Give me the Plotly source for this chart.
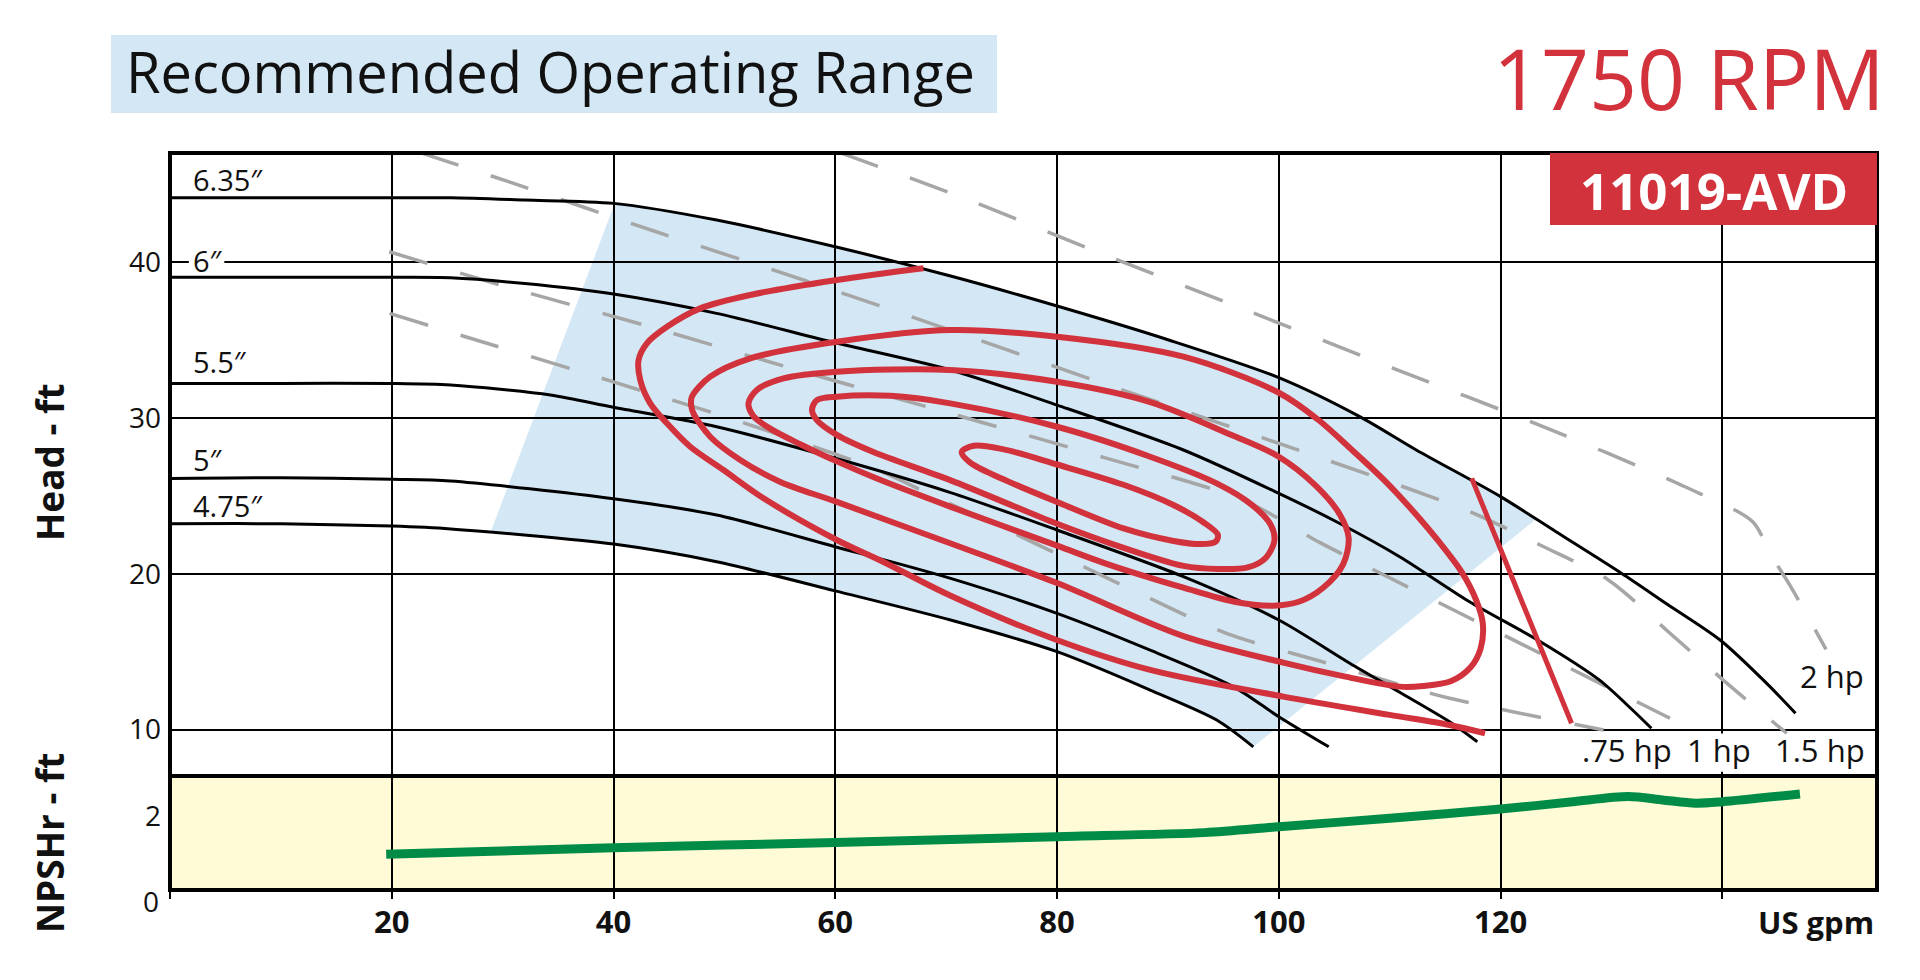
import numpy as np
import plotly.graph_objects as go

# ---------------- data ----------------
# impeller head curves (US gpm, ft)
imp_635_q = [0, 10, 20, 25.3, 32, 40, 49.3, 60, 70.4, 80, 90, 100, 107.3, 112.4, 120, 125, 130.9, 135, 139.8, 144, 146.6]
imp_635_h = [44.1, 44.1, 44.1, 44.1, 43.95, 43.74, 42.67, 40.96, 39.08, 37.16, 35.0, 32.57, 30.07, 27.93, 24.94, 22.69, 20.03, 18.06, 15.75, 12.97, 11.05]
imp_6_q = [0, 10, 20, 25.3, 32, 40, 49.3, 60, 70.4, 80, 91.4, 100, 105.2, 110.9, 117.2, 123.6, 128.9, 131.9, 133.6]
imp_6_h = [39.0, 39.0, 39.0, 38.97, 38.6, 37.93, 36.69, 34.81, 33.06, 30.81, 27.93, 25.15, 23.33, 21.09, 18.2, 15.64, 13.19, 11.26, 10.09]
imp_55_q = [0, 10, 20, 25.3, 34.3, 40, 49.3, 60, 70.4, 80, 91.4, 100, 106.4, 110.9, 115.4, 117.9]
imp_55_h = [32.2, 32.2, 32.2, 32.1, 31.46, 30.67, 29.42, 27.4, 25.2, 22.8, 19.81, 17.03, 14.26, 12.4, 10.51, 9.23]
imp_5_q = [0, 10, 20, 25.3, 40, 49.3, 60, 70.4, 80, 88.4, 95.9, 100, 104.5]
imp_5_h = [26.1, 26.15, 26.05, 25.94, 24.8, 23.76, 21.73, 19.7, 17.46, 15.1, 12.76, 10.83, 8.9]
imp_475_q = [0, 10, 20, 25.3, 40, 49.3, 60, 70.4, 80, 88.4, 94.4, 97.7]
imp_475_h = [23.2, 23.2, 23.05, 22.87, 21.9, 20.77, 18.9, 17.03, 15.0, 12.54, 10.62, 8.9]
imp_labels = ["6.35\u2033", "6\u2033", "5.5\u2033", "5\u2033", "4.75\u2033"]
imp_label_q = [1.9, 1.9, 1.9, 1.9, 1.9]
imp_label_h = [45.3, 40.1, 33.6, 27.35, 24.34]

# horsepower lines
hp075_q = [19.8, 26.42, 36.75, 43.31, 50.23, 63.44, 69.91, 75.17, 82.69, 89.0, 95.46, 103.7, 112.1, 115.4, 129.3]
hp075_h = [36.69, 35.24, 33.01, 31.56, 30.03, 26.76, 24.62, 22.91, 20.35, 18.21, 16.12, 14.4, 12.65, 12.01, 9.98]
hp1_q = [19.77, 30.03, 43.31, 57.08, 70.36, 84.18, 96.78, 103.72, 110.04, 116.35, 122.66, 128.97, 135.28]
hp1_h = [40.64, 38.46, 35.83, 32.95, 30.28, 27.46, 24.72, 21.99, 19.72, 17.46, 15.22, 12.97, 10.73]
hp15_q = [22.57, 30.53, 43.85, 57.13, 70.36, 83.89, 103.88, 117.1, 123.56, 129.72, 135.13, 140.24, 145.81]
hp15_h = [46.99, 45.13, 41.92, 38.83, 35.62, 32.27, 27.4, 24.02, 21.84, 19.6, 16.28, 13.08, 9.77]
hp2_q = [60.44, 71.26, 84.13, 97.26, 110.33, 123.5, 136.48, 142.74, 144.3, 146.26, 149.35]
hp2_h = [46.99, 44.17, 40.49, 36.84, 33.17, 29.53, 25.62, 23.33, 21.31, 19.06, 15.15]
hp_labels = [".75 hp", "1 hp", "1.5 hp", "2 hp"]
hp_label_q = [131.4, 139.7, 148.8, 149.9]
hp_label_h = [8.7, 8.7, 8.7, 13.44]

# efficiency contours
eff1_q = [67.95, 60.14, 52.33, 47.82, 44.82, 43.01, 42.26, 42.41, 43.31, 44.82, 46.92, 49.92, 53.5, 60.14, 64.35, 70.36, 79.98, 88.4, 100.4, 110.0, 115.4, 118.6]
eff1_h = [39.58, 38.83, 37.87, 37.01, 35.83, 34.77, 33.7, 32.42, 30.92, 29.64, 28.14, 26.65, 24.85, 22.16, 20.75, 18.6, 15.75, 13.83, 12.12, 10.95, 10.3, 9.77]
eff2_q = [70.36, 80.0, 91.4, 100.0, 103.5, 106.5, 109.5, 112.0, 114.5, 116.5, 117.8, 118.4, 118.2, 117.3, 115.5, 113.0, 110.9, 106.0, 100.4, 91.4, 80.0, 70.36, 60.14, 55.0, 51.43, 48.72, 47.21, 47.0, 47.07, 48.72, 52.33, 60.14, 70.36]
eff2_h = [35.62, 35.19, 33.91, 31.6, 29.9, 28.0, 26.0, 24.1, 22.0, 20.1, 18.3, 16.8, 15.2, 14.0, 13.1, 12.8, 12.76, 13.4, 14.3, 16.0, 19.4, 21.95, 24.6, 25.9, 27.29, 28.78, 30.28, 30.8, 31.35, 32.63, 33.81, 34.87, 35.62]
eff3_q = [70.36, 80, 88.4, 95.7, 100, 103.4, 105.5, 106.3, 105.8, 104.0, 101.8, 99.5, 96.0, 91.4, 84.6, 80, 70.36, 63.75, 60.14, 56.84, 54.13, 52.62, 52.17, 52.93, 55.33, 60.14, 70.36]
eff3_h = [33.06, 32.3, 31.0, 28.9, 27.5, 25.6, 23.8, 22.3, 20.6, 19.1, 18.2, 17.95, 18.2, 19.1, 20.6, 21.8, 24.3, 26.1, 27.2, 28.3, 29.3, 30.1, 30.92, 31.78, 32.52, 32.95, 33.06]
eff4_q = [70.36, 80, 88.4, 94.4, 97.6, 99.3, 99.6, 98.8, 97.2, 94.5, 91.4, 85, 80, 70.36, 63.44, 60.14, 58.34, 57.9, 58.34, 60.14, 65, 70.36]
eff4_h = [30.92, 29.42, 27.5, 25.79, 24.4, 23.1, 22.1, 21.0, 20.4, 20.3, 20.5, 21.9, 23.2, 26.0, 27.8, 28.9, 29.85, 30.5, 31.13, 31.35, 31.4, 30.92]
eff5_q = [80, 86, 90.5, 93.2, 94.5, 94.3, 93.0, 90.5, 86, 80, 75, 72.2, 71.4, 72.5, 75, 80]
eff5_h = [27.0, 25.7, 24.4, 23.3, 22.5, 22.05, 21.9, 22.1, 22.9, 24.6, 26.1, 27.1, 27.8, 28.2, 28.0, 27.0]
eff_end_q = [117.4, 126.4]
eff_end_h = [26.11, 10.41]

# recommended operating range corners
ror_q = [40.1, 123.2, 97.7, 28.9]

# NPSHr curve
npsh_q = [19.5, 40, 60, 80, 93.3, 100, 110, 120, 126.5, 131.5, 134.6, 137.6, 140, 147]
npsh_h = [0.97, 1.15, 1.29, 1.45, 1.56, 1.72, 1.95, 2.2, 2.40, 2.54, 2.45, 2.36, 2.4, 2.61]

x_ticks = [0, 20, 40, 60, 80, 100, 120, 140]
x_ticktext = ["", "20", "40", "60", "80", "100", "120", ""]
head_ticks = [10, 20, 30, 40]
npsh_ticks = [2]

# ---------------- styles ----------------
FONT = "Open Sans"
RED = "#d2323c"
BLUE = "#d3e7f5"
YELLOW = "#fffbd7"
GREEN = "#008c46"
GRAY = "#a6a6a6"
INK = "#111111"

W, H = 1920, 980
ML, MR, MT, MB = 170, 43, 153, 90
PW = W - ML - MR
PH = H - MT - MB
SPLIT = (890 - 776) / PH
XMAX = 153.95
HEAD_RANGE = [7.03, 46.97]
NPSH_RANGE = [0, 3.1]


def px(xp):
    return (xp - ML) / PW


def py(yp):
    return (890 - yp) / PH


# shape layer between gridlines and traces, if supported
try:
    go.layout.Shape(layer="between")
    MID_LAYER = "between"
except Exception:
    MID_LAYER = None

fig = go.Figure()

# blue recommended range as a shape path built from the curves
q635 = np.array(imp_635_q); h635 = np.array(imp_635_h)
q475 = np.array(imp_475_q); h475 = np.array(imp_475_h)
qa, qb, qc, qd = ror_q
pts = [(qa, np.interp(qa, q635, h635))]
pts += [(q, h) for q, h in zip(q635, h635) if qa < q < qb]
pts += [(qb, np.interp(qb, q635, h635))]
pts += [(qc, np.interp(qc, q475, h475))]
pts += [(q, h) for q, h in reversed(list(zip(q475, h475))) if qd < q < qc]
pts += [(qd, np.interp(qd, q475, h475))]
path = "M " + " L ".join(f"{q:.3f},{h:.3f}" for q, h in pts) + " Z"

shapes = [
    dict(type="rect", xref="x2 domain", yref="y2 domain", x0=0, x1=1, y0=0, y1=1,
         fillcolor=YELLOW, line=dict(width=0), layer="below"),
    dict(type="path", xref="x", yref="y", path=path, fillcolor=BLUE,
         line=dict(width=0), layer="below"),
]
if MID_LAYER:
    # white knock-outs behind the "6″" and "1 hp" labels (hide grid lines there)
    shapes += [
        dict(type="rect", xref="x", yref="y", x0=1.7, x1=4.9, y0=39.35, y1=40.8,
             fillcolor="white", line=dict(width=0), layer=MID_LAYER),
        dict(type="rect", xref="x", yref="y", x0=138.0, x1=141.6, y0=7.3, y1=9.75,
             fillcolor="white", line=dict(width=0), layer=MID_LAYER),
    ]

dash = "40px,34px"
for q, h in [(hp075_q, hp075_h), (hp1_q, hp1_h), (hp15_q, hp15_h), (hp2_q, hp2_h)]:
    fig.add_trace(go.Scatter(x=q, y=h, mode="lines", xaxis="x", yaxis="y",
                             line=dict(color=GRAY, width=3.5, dash=dash, shape="spline", smoothing=0.8),
                             hoverinfo="skip", showlegend=False))

for q, h in [(imp_635_q, imp_635_h), (imp_6_q, imp_6_h), (imp_55_q, imp_55_h),
             (imp_5_q, imp_5_h), (imp_475_q, imp_475_h)]:
    fig.add_trace(go.Scatter(x=q, y=h, mode="lines", xaxis="x", yaxis="y",
                             line=dict(color="black", width=3, shape="spline", smoothing=0.8),
                             hoverinfo="skip", showlegend=False))

for q, h in [(eff1_q, eff1_h), (eff2_q, eff2_h), (eff3_q, eff3_h), (eff4_q, eff4_h), (eff5_q, eff5_h)]:
    fig.add_trace(go.Scatter(x=q, y=h, mode="lines", xaxis="x", yaxis="y",
                             line=dict(color=RED, width=6, shape="spline", smoothing=0.9),
                             hoverinfo="skip", showlegend=False))
fig.add_trace(go.Scatter(x=eff_end_q, y=eff_end_h, mode="lines", xaxis="x", yaxis="y",
                         line=dict(color=RED, width=5), hoverinfo="skip", showlegend=False))

fig.add_trace(go.Scatter(x=npsh_q, y=npsh_h, mode="lines", xaxis="x2", yaxis="y2",
                         line=dict(color=GREEN, width=9, shape="spline", smoothing=0.8),
                         hoverinfo="skip", showlegend=False))

# frame, title box, model box
shapes += [
    dict(type="rect", xref="paper", yref="paper", x0=0, x1=1, y0=0, y1=1,
         line=dict(color="black", width=4), layer="above"),
    dict(type="line", xref="paper", yref="paper", x0=0, x1=1, y0=SPLIT, y1=SPLIT,
         line=dict(color="black", width=4), layer="above"),
    dict(type="rect", xref="paper", yref="paper",
         x0=px(111), x1=px(997), y0=py(113), y1=py(35),
         fillcolor=BLUE, line=dict(width=0), layer="above"),
    dict(type="rect", xref="paper", yref="paper",
         x0=px(1550), x1=1, y0=py(225), y1=1,
         fillcolor=RED, line=dict(width=0), layer="above"),
]

ann = []
ann.append(dict(text="Recommended Operating Range", xref="paper", yref="paper",
                x=px(124), y=py(71), xanchor="left", yanchor="middle", showarrow=False,
                font=dict(family=FONT, size=56, color=INK)))
ann.append(dict(text="1750 RPM", xref="paper", yref="paper",
                x=px(1887), y=py(77), xanchor="right", yanchor="middle", showarrow=False,
                font=dict(family=FONT, size=84, color=RED)))
ann.append(dict(text="<b>11019-AVD</b>", xref="paper", yref="paper",
                x=px(1714), y=py(190), xanchor="center", yanchor="middle", showarrow=False,
                font=dict(family=FONT, size=51, color="white")))
for t, q, h in zip(imp_labels, imp_label_q, imp_label_h):
    ann.append(dict(text=t, xref="x", yref="y", x=q, y=h, xanchor="left", yanchor="middle",
                    showarrow=False, font=dict(family=FONT, size=29, color=INK)))
for t, q, h in zip(hp_labels, hp_label_q, hp_label_h):
    ann.append(dict(text=t, xref="x", yref="y", x=q, y=h, xanchor="center", yanchor="middle",
                    showarrow=False, font=dict(family=FONT, size=31, color=INK)))
ann.append(dict(text="0", xref="paper", yref="paper", x=px(161), y=py(901),
                xanchor="right", yanchor="middle", showarrow=False,
                font=dict(family=FONT, size=28, color=INK)))
ann.append(dict(text="<b>US gpm</b>", xref="paper", yref="paper", x=px(1876), y=py(922),
                xanchor="right", yanchor="middle", showarrow=False,
                font=dict(family=FONT, size=31, color=INK)))
ann.append(dict(text="<b>Head - ft</b>", xref="paper", yref="paper", x=px(49), y=py(463),
                xanchor="center", yanchor="middle", textangle=-90, showarrow=False,
                font=dict(family=FONT, size=37, color=INK)))
ann.append(dict(text="<b>NPSHr - ft</b>", xref="paper", yref="paper", x=px(49), y=py(843),
                xanchor="center", yanchor="middle", textangle=-90, showarrow=False,
                font=dict(family=FONT, size=37, color=INK)))

grid = dict(showgrid=True, gridcolor="black", gridwidth=2, zeroline=False, showline=False,
            automargin=False)
fig.update_layout(
    width=W, height=H,
    margin=dict(l=ML, r=MR, t=MT, b=MB, pad=0),
    paper_bgcolor="white", plot_bgcolor="white",
    showlegend=False,
    font=dict(family=FONT, color=INK),
    xaxis=dict(domain=[0, 1], range=[0, XMAX], anchor="y", tickvals=x_ticks,
               showticklabels=False, ticks="", **grid),
    xaxis2=dict(domain=[0, 1], range=[0, XMAX], anchor="y2", matches="x", tickvals=x_ticks,
                ticktext=x_ticktext, ticks="outside", ticklen=8, tickwidth=2, tickcolor="black",
                ticklabelstandoff=-3,
                tickfont=dict(family=FONT, size=31, color=INK, weight="bold"), **grid),
    yaxis=dict(domain=[SPLIT, 1], range=HEAD_RANGE, anchor="x", tickvals=head_ticks,
               ticks="", ticklabelstandoff=8,
               tickfont=dict(family=FONT, size=28, color=INK), **grid),
    yaxis2=dict(domain=[0, SPLIT], range=NPSH_RANGE, anchor="x2", tickvals=npsh_ticks,
                ticks="", ticklabelstandoff=8, showgrid=False, zeroline=False, showline=False,
                automargin=False, tickfont=dict(family=FONT, size=28, color=INK)),
    shapes=shapes,
    annotations=ann,
)

fig.write_html("out.html", config={"displayModeBar": False},
               post_script="document.body.style.margin='0';document.body.style.overflow='hidden';")
